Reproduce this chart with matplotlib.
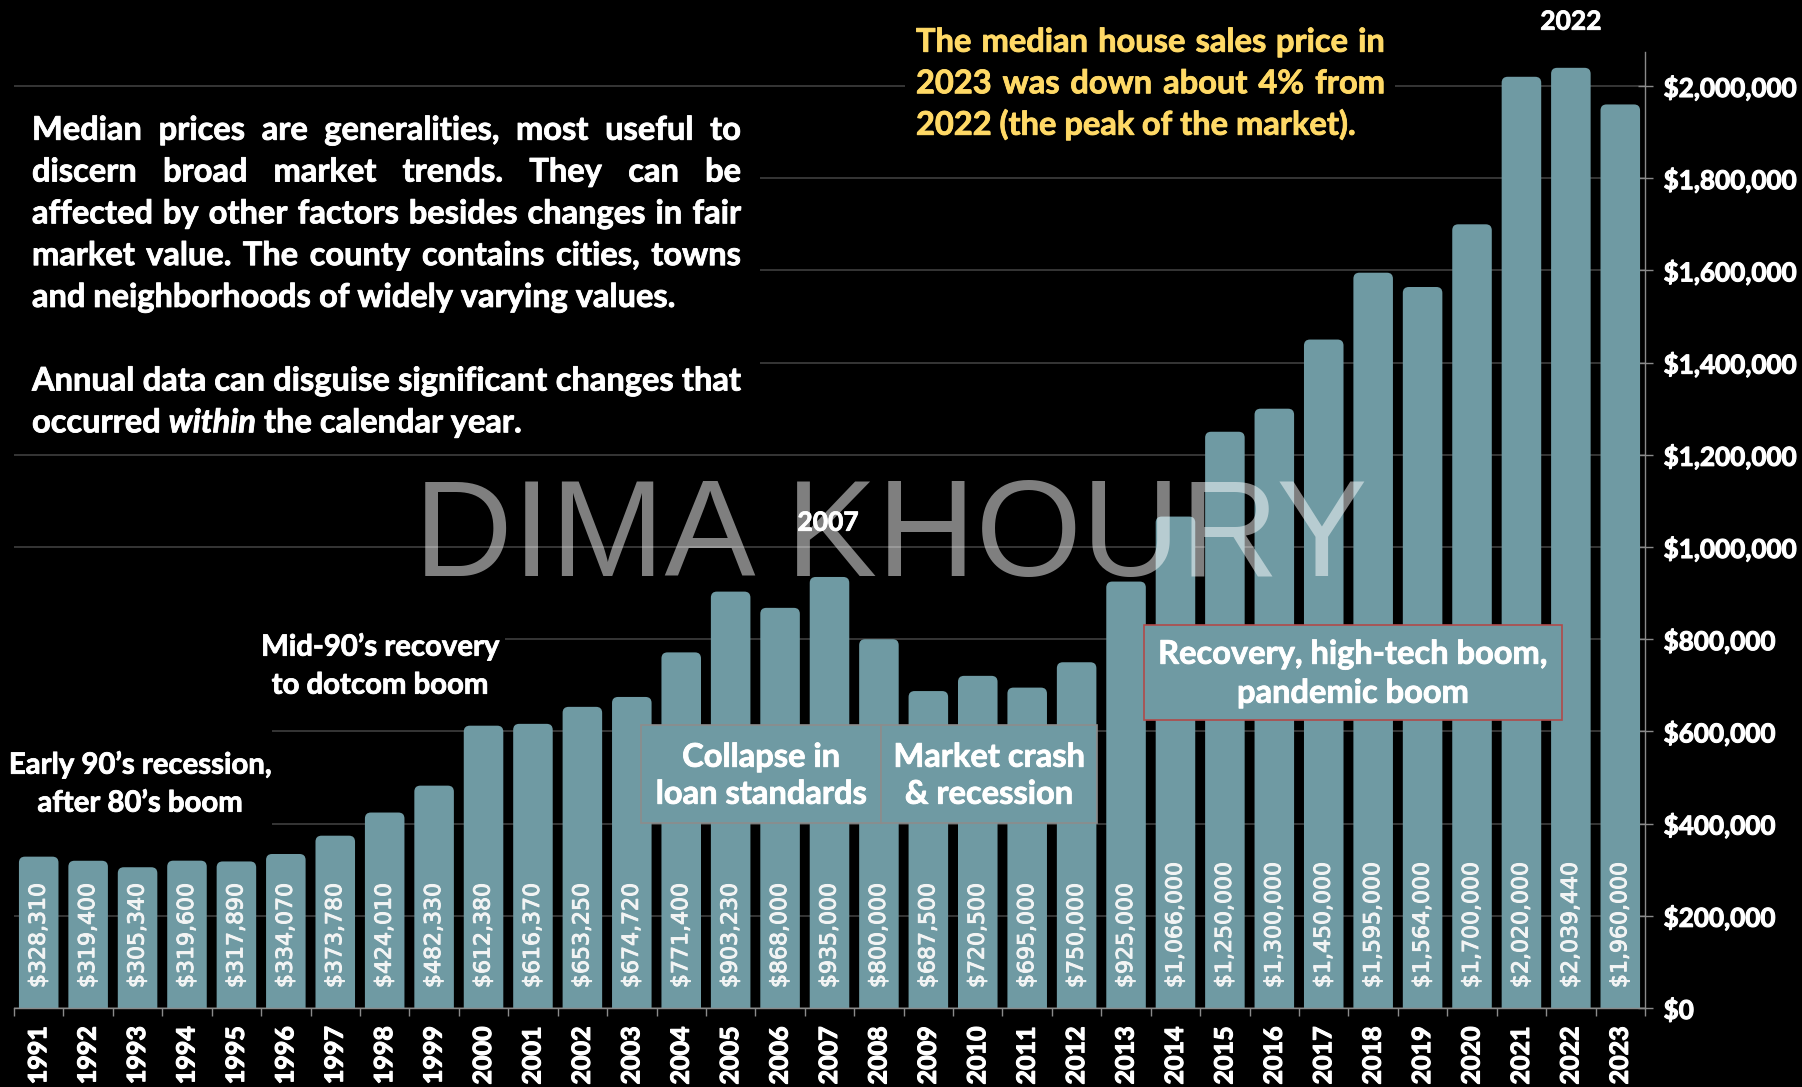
import matplotlib
matplotlib.use("Agg")
import numpy as np
import matplotlib.pyplot as plt
import matplotlib.patheffects as pe
from matplotlib.patches import Rectangle, FancyBboxPatch
from matplotlib.transforms import IdentityTransform
from matplotlib.ticker import FuncFormatter

# ---------------- data ----------------
years = [str(y) for y in range(1991, 2024)]
prices = [328310, 319400, 305340, 319600, 317890, 334070, 373780, 424010,
          482330, 612380, 616370, 653250, 674720, 771400, 903230, 868000,
          935000, 800000, 687500, 720500, 695000, 750000, 925000, 1066000,
          1250000, 1300000, 1450000, 1595000, 1564000, 1700000, 2020000,
          2039440, 1960000]
y_ticks = [0, 200000, 400000, 600000, 800000, 1000000, 1200000, 1400000,
           1600000, 1800000, 2000000]

body_lines = [
    "Median prices are generalities, most useful to",
    "discern broad market trends. They can be",
    "affected by other factors besides changes in fair",
    "market value. The county contains cities, towns",
    "and neighborhoods of widely varying values.",
    "",
    "Annual data can disguise significant changes that",
    "occurred *within* the calendar year.",
]
body_justify = [True, True, True, True, False, False, True, False]
note_lines = [
    "The median house sales price in",
    "2023 was down about 4% from",
    "2022 (the peak of the market).",
]
note_justify = [True, True, False]
label_early = ["Early 90\u2019s recession,", "after 80\u2019s boom"]
label_mid = ["Mid-90\u2019s recovery", "to dotcom boom"]
box_collapse = ["Collapse in", "loan standards"]
box_crash = ["Market crash", "& recession"]
box_recovery = ["Recovery, high-tech boom,", "pandemic boom"]
watermark = "DIMA KHOURY"

# ---------------- style ----------------
BAR = '#6f9aa3'
GOLD = '#ffd966'
GRID = '#3a3a3a'
AXC = '#8a8a8a'
SANS = ['Lato', 'DejaVu Sans']
plt.rcParams['font.family'] = SANS

W, H = 1802, 1087
fig = plt.figure(figsize=(W / 100, H / 100), dpi=100, facecolor='black')
renderer = fig.canvas.get_renderer()
ID = IdentityTransform()


def text_w(s, size, **kw):
    t = fig.text(0, 0, s, fontsize=size, transform=ID, **kw)
    w = t.get_window_extent(renderer).width
    t.remove()
    return w


def fit(s, target, **kw):
    return 20 * target / text_w(s, 20, **kw)


def thick(color, lw=0.8):
    return [pe.withStroke(linewidth=lw, foreground=color)]


# ---------------- axes ----------------
AX_L, AX_R, AX_T, AX_B = 14, 1645, 52, 1008
Y2M = 86
ax = fig.add_axes([AX_L / W, 1 - AX_B / H, (AX_R - AX_L) / W, (AX_B - AX_T) / H])
ax.set_facecolor('black')
ymax = 2_000_000 * (AX_B - AX_T) / (AX_B - Y2M)
n = len(years)
x = np.arange(n)

bars = ax.bar(x, prices, width=0.8, color=BAR, zorder=2)
px_x = (AX_R - AX_L) / n
px_y = (AX_B - AX_T) / ymax
rad = 6 / px_x
asp = px_x / px_y
ext = 20 / px_y
for b in bars:
    b.set_visible(False)
    ax.add_patch(FancyBboxPatch((b.get_x(), -ext), b.get_width(), b.get_height() + ext,
                                boxstyle=f"round,pad=0,rounding_size={rad}",
                                mutation_aspect=asp, facecolor=BAR,
                                edgecolor='none', zorder=2))
ax.set_xlim(-0.5, n - 0.5)
ax.set_ylim(0, ymax)

vsize = fit('$328,310', 105, family='DejaVu Sans')
for i, v in enumerate(prices):
    ax.annotate(f"${v:,}", xy=(i, 0), xytext=(0, 14.4), textcoords='offset points',
                rotation=90, ha='center', va='bottom', fontsize=vsize,
                color='#f2f4f4', family='DejaVu Sans', zorder=3,
                path_effects=thick('#f2f4f4', 0.7))

ysz = fit('1991', 58, fontweight='bold')
ax.set_xticks(x)
ax.set_xticklabels(years, rotation=90, fontsize=ysz, fontweight='bold', color='white')
ax.tick_params(axis='x', which='major', length=0, pad=13)
ax.set_xticks(np.arange(-0.5, n), minor=True)
ax.tick_params(axis='x', which='minor', length=5.8, width=1, color=AXC, direction='out')
for lab in ax.get_xticklabels():
    lab.set_path_effects(thick('white', 0.8))

ax.yaxis.tick_right()
ax.set_yticks(y_ticks)
ax.yaxis.set_major_formatter(FuncFormatter(lambda v, p: f"${v:,.0f}"))
tsz = fit('$2,000,000', 134, fontweight='bold')
ax.tick_params(axis='y', direction='inout', length=10.8, width=1, color=AXC,
               pad=8, labelsize=tsz, labelcolor='white')
for lab in ax.get_yticklabels():
    lab.set_fontweight('bold')
    lab.set_path_effects(thick('white', 0.8))

for s in ['left', 'top']:
    ax.spines[s].set_visible(False)
for s in ['bottom', 'right']:
    ax.spines[s].set_color(AXC)
    ax.spines[s].set_linewidth(1)
ax.grid(axis='y', color=GRID, lw=1.3)
ax.set_axisbelow(True)


# ---------------- text helpers (pixel coords from top-left) ----------------
def bg_rect(x0, y0, x1, y1, fc='black', ec='none', lw=0, z=1):
    fig.add_artist(Rectangle((x0, H - y1), x1 - x0, y1 - y0, transform=ID,
                             facecolor=fc, edgecolor=ec, linewidth=lw, zorder=z))


def para(lines, justify, x0, x1, y_first, step, size, color):
    em = size * 100 / 72
    sp = text_w('a a', size, fontweight='bold') - text_w('aa', size, fontweight='bold')
    for k, (line, jus) in enumerate(zip(lines, justify)):
        if not line:
            continue
        base = y_first + k * step + 0.33 * em
        words = []
        for w in line.split(' '):
            if w.startswith('*') and w.endswith('*'):
                words.append((w.strip('*'), 'italic'))
            else:
                words.append((w, 'normal'))
        ts = [fig.text(0, H - base, w, transform=ID, fontsize=size, fontweight='bold',
                       fontstyle=st, color=color, ha='left', va='baseline', zorder=3,
                       path_effects=thick(color, 0.6))
              for w, st in words]
        widths = [t.get_window_extent(renderer).width for t in ts]
        gap = (x1 - x0 - sum(widths)) / (len(ts) - 1) if (jus and len(ts) > 1) else sp
        xx = x0
        for t, w in zip(ts, widths):
            t.set_x(xx)
            xx += w + gap


def centered(lines, cx, y_first, step, size, color='white', z=3):
    em = size * 100 / 72
    for k, line in enumerate(lines):
        base = y_first + k * step + 0.33 * em
        fig.text(cx, H - base, line, transform=ID, fontsize=size, fontweight='bold',
                 color=color, ha='center', va='baseline', zorder=z,
                 path_effects=thick(color, 0.6))


# left paragraph
bsz = fit(body_lines[4], 643, fontweight='bold')
bg_rect(14, 100, 760, 440)
para(body_lines, body_justify, 32, 741, 129, 41.8, bsz, 'white')

# yellow note
nsz = fit(note_lines[2], 440, fontweight='bold')
bg_rect(905, 8, 1395, 148)
para(note_lines, note_justify, 916, 1385, 41, 41.5, nsz, GOLD)

# peak labels
psz = fit('2022', 61, fontweight='bold')
centered(['2022'], 1571, 21, 0, psz)
bg_rect(795, 500, 862, 545)
centered(['2007'], 828, 522, 0, psz)

# era labels
lsz = fit(label_early[0], 263, fontweight='bold')
bg_rect(0, 620, 272, 825)
centered(label_early, 140, 764, 38, lsz)
bg_rect(252, 618, 505, 705)
centered(label_mid, 380, 646, 38, lsz)

# boxes
bx = fit(box_collapse[1], 211, fontweight='bold')
bg_rect(641, 725, 881, 823, fc=BAR, ec='#8c8c8c', lw=1.2)
centered(box_collapse, 761, 756, 37, bx)
bg_rect(881, 725, 1097, 823, fc=BAR, ec='#8c8c8c', lw=1.2)
centered(box_crash, 989, 756, 37, bx)
bg_rect(1144, 625, 1562, 720, fc=BAR, ec='#b04a4a', lw=1.2)
centered(box_recovery, 1353, 653, 39, bx)

# watermark
wsz = fit(watermark, 951, family='Liberation Sans')
wem = wsz * 100 / 72
fig.text(891, H - (527 + 0.358 * wem), watermark, transform=ID, fontsize=wsz,
         family='Liberation Sans', color='white', alpha=0.5,
         ha='center', va='baseline', zorder=6)

fig.savefig('out.png', dpi=100, facecolor='black')
